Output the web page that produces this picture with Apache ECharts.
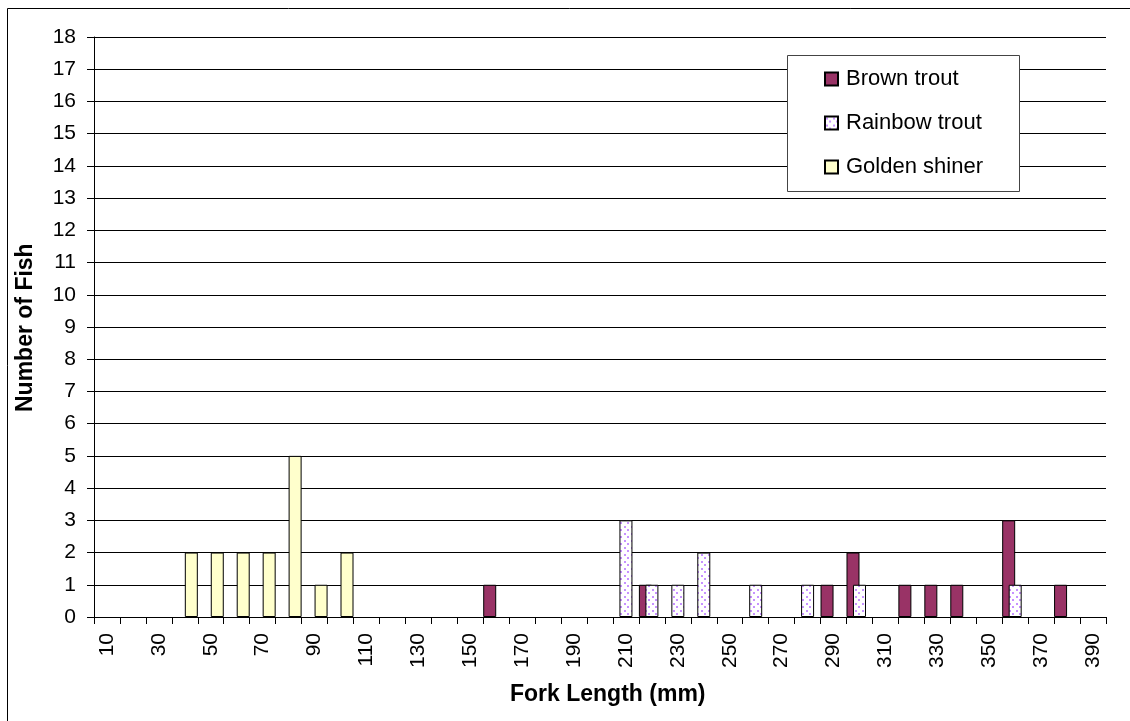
<!DOCTYPE html>
<html>
<head>
<meta charset="utf-8">
<script src="https://cdn.jsdelivr.net/npm/echarts@6/dist/echarts.min.js"></script>
<style>
  html, body { margin: 0; padding: 0; background: #fff; }
  #chart { width: 1130px; height: 721px; }
</style>
</head>
<body>
<div id="chart"></div>
<script>
// fork length classes (mm)
const lengths = ['10', '20', '30', '40', '50', '60', '70', '80', '90', '100',
  '110', '120', '130', '140', '150', '160', '170', '180', '190', '200',
  '210', '220', '230', '240', '250', '260', '270', '280', '290', '300',
  '310', '320', '330', '340', '350', '360', '370', '380', '390']
// number of fish per class
const brownTrout = [0, 0, 0, 0, 0, 0, 0, 0, 0, 0,
  0, 0, 0, 0, 0, 1, 0, 0, 0, 0,
  0, 1, 0, 0, 0, 0, 0, 0, 1, 2,
  0, 1, 1, 1, 0, 3, 0, 1, 0]
const rainbowTrout = [0, 0, 0, 0, 0, 0, 0, 0, 0, 0,
  0, 0, 0, 0, 0, 0, 0, 0, 0, 0,
  3, 1, 1, 2, 0, 1, 0, 1, 0, 1,
  0, 0, 0, 0, 0, 1, 0, 0, 0]
const goldenShiner = [0, 0, 0, 2, 2, 2, 2, 5, 1, 2,
  0, 0, 0, 0, 0, 0, 0, 0, 0, 0,
  0, 0, 0, 0, 0, 0, 0, 0, 0, 0,
  0, 0, 0, 0, 0, 0, 0, 0, 0]
const yTicks = { min: 0, max: 18, step: 1 }

const FONT = '"Liberation Sans", Arial, sans-serif'

// dotted fill for rainbow trout
const dots = document.createElement('canvas')
dots.width = 7
dots.height = 7
const ctx = dots.getContext('2d')
ctx.fillStyle = '#ffffff'
ctx.fillRect(0, 0, 7, 7)
ctx.fillStyle = '#c792ff'
ctx.fillRect(1, 1, 2, 2)
ctx.fillRect(4, 4, 2, 2)

const hideZero = arr => arr.map(v => (v === 0 ? null : v))

const barStyle = color => ({ color: color, borderColor: '#000', borderWidth: 1 })

const myChart = echarts.init(document.getElementById('chart'))
myChart.setOption({
  animation: false,
  backgroundColor: '#fff',
  textStyle: { fontFamily: FONT },
  grid: { left: 94, right: 24, top: 37, bottom: 104 },
  graphic: [
    {
      type: 'rect',
      shape: { x: 7.5, y: 8.5, width: 1300, height: 900 },
      style: { fill: null, stroke: '#000', lineWidth: 1 },
      z: -1
    },
    {
      type: 'rect',
      shape: { x: 787.5, y: 55.5, width: 232, height: 136 },
      style: { fill: '#fff', stroke: '#444', lineWidth: 1 },
      z: 5
    },
    {
      type: 'text',
      left: 510,
      top: 683,
      style: { text: 'Fork Length (mm)', font: 'bold 23px ' + FONT, fill: '#000' }
    },
    {
      type: 'text',
      x: 14,
      y: 412,
      rotation: Math.PI / 2,
      style: { text: 'Number of Fish', font: 'bold 23px ' + FONT, fill: '#000', textVerticalAlign: 'top' }
    }
  ],
  legend: {
    orient: 'vertical',
    left: 819,
    top: 63,
    itemWidth: 13,
    itemHeight: 13,
    itemGap: 22,
    icon: 'rect',
    z: 10,
    textStyle: { fontFamily: FONT, fontSize: 22, color: '#000', lineHeight: 22, padding: [0, 0, 0, 3] },
    data: ['Brown trout', 'Rainbow trout', 'Golden shiner']
  },
  xAxis: {
    type: 'category',
    data: lengths,
    boundaryGap: true,
    axisLine: { lineStyle: { color: '#000', width: 1 } },
    axisTick: { show: true, interval: 0, length: 7, lineStyle: { color: '#000' } },
    axisLabel: {
      interval: 1,
      rotate: 90,
      margin: 16,
      fontSize: 21,
      fontFamily: FONT,
      color: '#000'
    },
    splitLine: { show: false }
  },
  yAxis: {
    type: 'value',
    min: yTicks.min,
    max: yTicks.max,
    interval: yTicks.step,
    axisLine: { show: true, lineStyle: { color: '#000', width: 1 } },
    axisTick: { show: true, length: 7, lineStyle: { color: '#000' } },
    axisLabel: { margin: 18, fontSize: 21, fontFamily: FONT, color: '#000' },
    splitLine: { show: true, lineStyle: { color: '#000', width: 1 } }
  },
  series: [
    {
      name: 'Brown trout',
      type: 'bar',
      barWidth: 13,
      barGap: '-50%',
      data: hideZero(brownTrout),
      itemStyle: barStyle('#993366')
    },
    {
      name: 'Rainbow trout',
      type: 'bar',
      barWidth: 13,
      barGap: '-50%',
      data: hideZero(rainbowTrout),
      itemStyle: barStyle({ image: dots, repeat: 'repeat' })
    },
    {
      name: 'Golden shiner',
      type: 'bar',
      barWidth: 13,
      barGap: '-50%',
      data: hideZero(goldenShiner),
      itemStyle: barStyle('#ffffcc')
    }
  ]
})
</script>
</body>
</html>
